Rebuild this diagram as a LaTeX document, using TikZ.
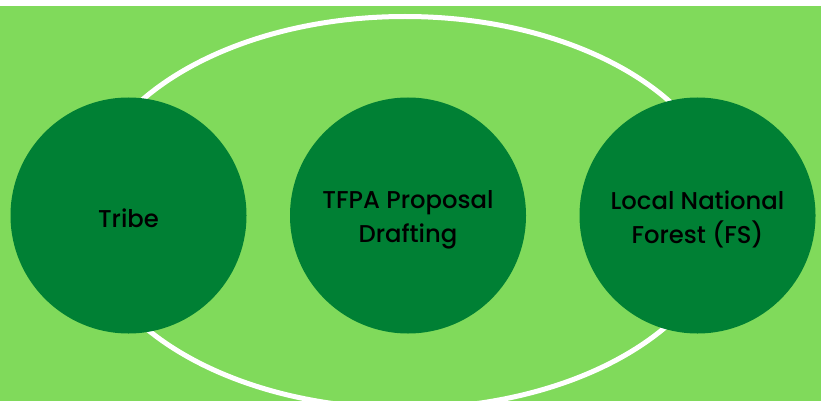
\documentclass[tikz,border=0pt]{standalone}
\usepackage{fontspec}
\setmainfont{Poppins}[UprightFont=* Medium]
\definecolor{bglight}{HTML}{80DA5B}
\definecolor{darkg}{HTML}{008034}
\begin{document}
\begin{tikzpicture}[x=1pt,y=-1pt,
  circ/.style={circle, fill=darkg, minimum size=236pt, inner sep=0pt},
  txt/.style={align=center, font=\fontsize{24.3}{34}\selectfont, text=black, yshift=-4pt}]
\useasboundingbox (0,0) rectangle (821,401);
\fill[white] (0,0) rectangle (821,401);
\fill[bglight] (0,5.7) rectangle (821,401);
\draw[white, line width=5pt] (405,212.5) ellipse [x radius=321, y radius=196];
\node[circ, label={[txt, yshift=1.5pt]center:Tribe}] (tribe) at (128.5,215.5) {};
\node[circ, label={[txt]center:{TFPA Proposal\\Drafting}}] (tfpa) at (408,215.5) {};
\node[circ, label={[txt]center:{Local National\\Forest (FS)}}] (fs) at (697.5,215.5) {};
\end{tikzpicture}
\end{document}
